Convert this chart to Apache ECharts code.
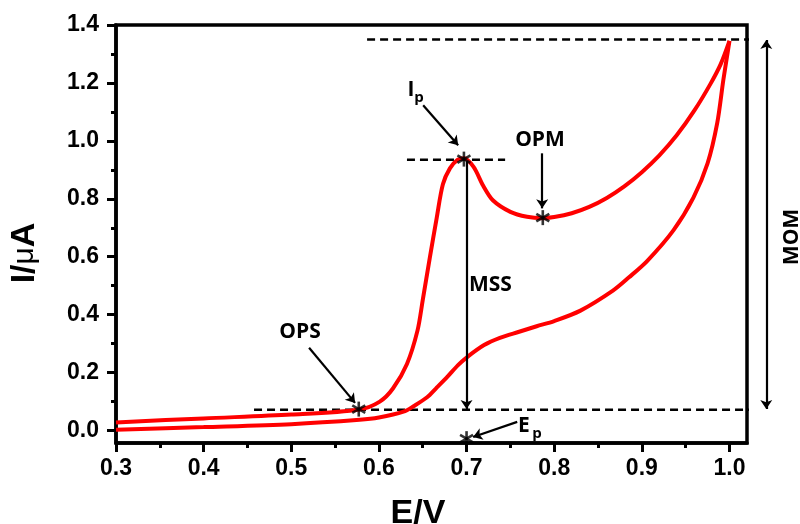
<!DOCTYPE html>
<html>
<head>
<meta charset="utf-8">
<script src="https://cdn.jsdelivr.net/npm/echarts@6/dist/echarts.min.js"></script>
<style>html,body{margin:0;padding:0;background:#fff}#c{width:800px;height:524px}</style>
</head>
<body>
<div id="c"></div>
<script>
// forward (anodic) sweep
var fwdX = [0.3, 0.4, 0.5, 0.578, 0.601, 0.616, 0.632, 0.644, 0.650, 0.658, 0.666, 0.673, 0.681, 0.690, 0.697, 0.708, 0.719, 0.730, 0.750, 0.769, 0.786, 0.800, 0.820, 0.840, 0.860, 0.880, 0.900, 0.920, 0.940, 0.960, 0.978, 0.990, 1.0];
var fwdY = [0.028, 0.042, 0.055, 0.073, 0.100, 0.145, 0.230, 0.345, 0.450, 0.595, 0.735, 0.850, 0.905, 0.935, 0.940, 0.910, 0.845, 0.795, 0.755, 0.738, 0.733, 0.737, 0.750, 0.772, 0.803, 0.843, 0.892, 0.950, 1.020, 1.105, 1.195, 1.265, 1.345];
// reverse sweep
var revX = [1.0, 0.993, 0.986, 0.975, 0.959, 0.936, 0.906, 0.885, 0.867, 0.830, 0.800, 0.780, 0.760, 0.738, 0.720, 0.700, 0.690, 0.678, 0.665, 0.655, 0.640, 0.628, 0.600, 0.578, 0.5, 0.4, 0.3];
var revY = [1.345, 1.210, 1.061, 0.922, 0.805, 0.691, 0.585, 0.528, 0.483, 0.414, 0.378, 0.360, 0.341, 0.320, 0.295, 0.252, 0.225, 0.185, 0.145, 0.115, 0.085, 0.065, 0.045, 0.037, 0.022, 0.012, 0.003];
// axis ticks
var xTicks = [0.3, 0.4, 0.5, 0.6, 0.7, 0.8, 0.9, 1.0];
var xMinor = [0.35, 0.45, 0.55, 0.65, 0.75, 0.85, 0.95];
var yTicks = [0.0, 0.2, 0.4, 0.6, 0.8, 1.0, 1.2, 1.4];
var yMinor = [0.1, 0.3, 0.5, 0.7, 0.9, 1.1, 1.3];
// annotation points [E, I]
var starPts = [[0.697, 0.937], [0.787, 0.735], [0.577, 0.074], [0.7, -0.028]];
var dashLines = [
  [[0.5865, 1.35], [1.066, 1.35]],
  [[0.4575, 0.072], [1.060, 0.072]],
  [[0.632, 0.935], [0.744, 0.935]]
];
var arrowLines = [
  [[0.6505, 1.123], [0.6904, 0.985]],
  [[0.7863, 0.957], [0.7863, 0.767]],
  [[0.5203, 0.286], [0.5728, 0.0955]],
  [[0.7578, 0.0298], [0.7075, -0.0221]],
  [[0.7, 0.93], [0.7, 0.074]]
];
var momLine = [[1.042, 0.074], [1.042, 1.348]];

function zip(a, b) { return a.map(function (v, i) { return [v, b[i]]; }); }

var chart = echarts.init(document.getElementById('c'), null, {renderer: 'canvas'});
var tickFam = 'Liberation Sans, Arial';
var series = [
  {type: 'line', data: zip(fwdX, fwdY), smooth: 0.3, showSymbol: false,
   lineStyle: {color: '#ff0000', width: 4}, z: 3},
  {type: 'line', data: zip(revX, revY), smooth: 0.3, showSymbol: false,
   lineStyle: {color: '#ff0000', width: 4}, z: 3}
];
dashLines.forEach(function (d) {
  series.push({type: 'line', data: d, showSymbol: false, clip: false, silent: true,
    lineStyle: {color: '#000', width: 2.5, type: [8, 5]}, z: 2});
});
series.push({type: 'lines', coordinateSystem: 'cartesian2d', clip: false, silent: true,
  symbol: ['none', 'arrow'], symbolSize: 9,
  lineStyle: {color: '#000', width: 2.2, opacity: 1},
  data: arrowLines.map(function (c) { return {coords: c}; }), z: 4});
series.push({type: 'lines', coordinateSystem: 'cartesian2d', clip: false, silent: true,
  symbol: ['arrow', 'arrow'], symbolSize: 9,
  lineStyle: {color: '#000', width: 2.2, opacity: 1},
  data: [{coords: momLine}], z: 4});
[0, 60, -60].forEach(function (r) {
  series.push({type: 'scatter', data: starPts, clip: false, silent: true,
    symbol: 'rect', symbolSize: [2.6, 15], symbolRotate: r,
    itemStyle: {color: '#000'}, z: 6});
});

function txt(x, y, t, size, opts) {
  var o = {type: 'text', x: x, y: y, z: 10,
    style: {text: t, fill: '#000', fontWeight: 'bold', fontSize: size,
      fontFamily: (opts && opts.family) || 'Open Sans',
      textAlign: (opts && opts.align) || 'center', textVerticalAlign: 'middle'}};
  if (opts && opts.rotation) o.rotation = opts.rotation;
  return o;
}

chart.setOption({
  animation: false,
  grid: {left: 116, top: 25, right: 53, bottom: 81, show: true, borderColor: '#000', borderWidth: 3.5, containLabel: false},
  xAxis: [
    {type: 'value', min: 0.3, max: 1.02, splitLine: {show: false},
     axisLine: {show: true, onZero: false, lineStyle: {color: '#000', width: 3.5}},
     axisTick: {show: true, inside: false, length: 9, lineStyle: {color: '#000', width: 3}, customValues: xTicks},
     axisLabel: {show: true, margin: 14, customValues: xTicks, formatter: function (v) { return v.toFixed(1); }, color: '#000', fontFamily: tickFam, fontWeight: 'bold', fontSize: 23}},
    {type: 'value', min: 0.3, max: 1.02, position: 'bottom', splitLine: {show: false},
     axisLine: {show: false, onZero: false},
     axisTick: {show: true, length: 5, lineStyle: {color: '#000', width: 3}, customValues: xMinor},
     axisLabel: {show: false}}
  ],
  yAxis: [
    {type: 'value', min: -0.043, max: 1.4, splitLine: {show: false},
     axisLine: {show: true, onZero: false, lineStyle: {color: '#000', width: 3.5}},
     axisTick: {show: true, length: 9, lineStyle: {color: '#000', width: 3}, customValues: yTicks},
     axisLabel: {show: true, margin: 17, customValues: yTicks, formatter: function (v) { return v.toFixed(1); }, color: '#000', fontFamily: tickFam, fontWeight: 'bold', fontSize: 23}},
    {type: 'value', min: -0.043, max: 1.4, position: 'left', splitLine: {show: false},
     axisLine: {show: false, onZero: false},
     axisTick: {show: true, length: 5, lineStyle: {color: '#000', width: 3}, customValues: yMinor},
     axisLabel: {show: false}}
  ],
  series: series,
  graphic: [
    {type: 'text', x: 25, y: 253, rotation: Math.PI / 2, z: 10,
     style: {text: '{a|I/}{m|μ}{a|A}', textAlign: 'center', textVerticalAlign: 'middle',
       rich: {a: {fontWeight: 'bold', fontSize: 34, fontFamily: 'Liberation Sans, Arial', fill: '#000'},
              m: {fontSize: 30, fontFamily: 'Liberation Sans, Arial', fill: '#000'}}}},
    txt(418, 514, 'E/V', 34, {family: 'Liberation Sans, Arial'}),
    txt(411, 90, 'I', 21),
    txt(419, 98, 'p', 15),
    txt(540, 140, 'OPM', 21),
    txt(300, 332, 'OPS', 21),
    txt(469, 285, 'MSS', 21, {align: 'left'}),
    txt(524, 426, 'E', 21),
    txt(537, 434, 'p', 15),
    txt(792, 237, 'MOM', 21, {rotation: Math.PI / 2})
  ]
});
</script>
</body>
</html>
